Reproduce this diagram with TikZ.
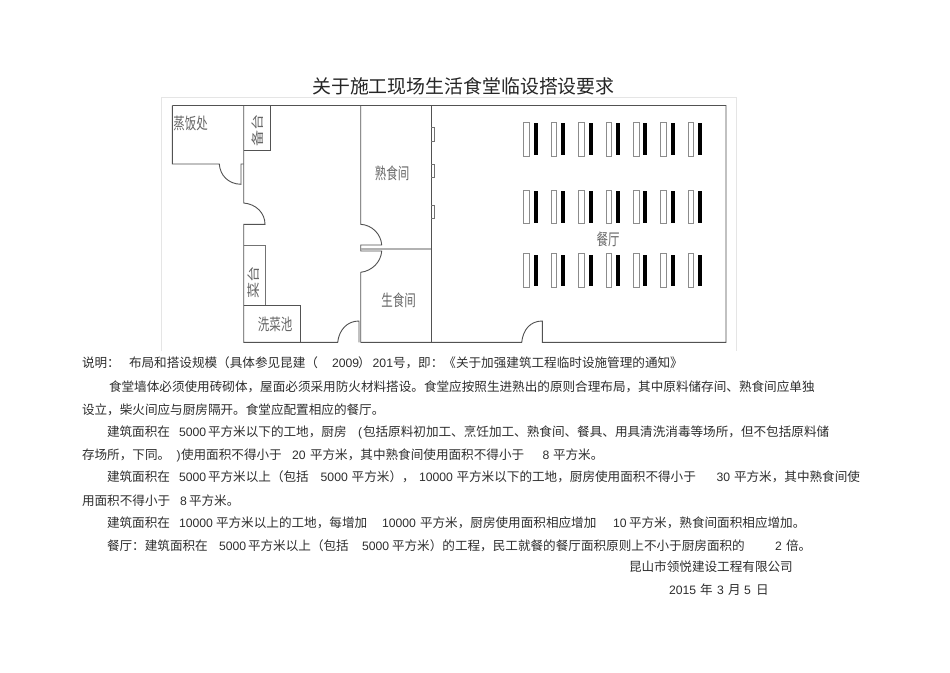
\documentclass[tikz,border=0pt]{standalone}
\usepackage{fontspec}
\setmainfont{Liberation Sans}
\newfontfamily\cjk{Noto Sans CJK SC}
\newcommand{\tx}[4]{\node[txt] (#1) at (#2,#3) {#4};}
\newcommand{\za}[4]{\node[txt,font=\cjk\fontsize{12.6}{14}\selectfont] (#1) at (#2,#3) {#4};}
\newcommand{\lab}[4]{\node[hand] (#1) at (#2,#3) {#4};}
\newcommand{\labr}[4]{\node[hand,rotate=90,yscale=1.1] (#1) at (#2,#3) {#4};}
\tikzset{
  txt/.style={anchor=base west,inner sep=0pt,outer sep=0pt,text=black!82,font=\fontsize{12.2}{14}\selectfont},
  wall/.style={draw=black!68,line width=0.9pt},
  thin wall/.style={draw=black!55,line width=0.7pt},
  hand/.style={inner sep=0pt,text=black!60,transform shape,yscale=1.4,font=\cjk\fontsize{11.5}{13}\selectfont},
  seat/.style={draw=black!45,fill=white,line width=0.7pt}
}
\begin{document}
\begin{tikzpicture}[x=1pt,y=-1pt]
\useasboundingbox (0,0) rectangle (950,672);
\fill[white] (0,0) rectangle (950,672);
% image frame
\draw[black!10,line width=0.6pt] (161,351) -- (161,97.3) -- (736,97.3) -- (736,351);
% title
\node[inner sep=0pt,anchor=base west,text=black!85,font=\cjk\fontsize{18.9}{22}\selectfont] (title) at (312,93) {关于施工现场生活食堂临设搭设要求};
% rooms
\draw[wall] (172.3,105.5) -- (726,105.5) -- (726,342.3) -- (542.3,342.3) -- (542.3,321)
  .. controls (530,321) and (523,330) .. (521.7,342.3) -- (360.7,342.3);
\draw[wall] (359,342.3) -- (359,321) .. controls (347,321) and (339,330) .. (337.7,342.3) -- (243.7,342.3) -- (243.7,224.3) -- (265,224.3)
  .. controls (265,213) and (256,204) .. (243.7,203) -- (243.7,105.5);
\draw[wall] (172.3,105.5) -- (172.3,164) -- (219.3,164)
  .. controls (220,175) and (228,184) .. (241,184.3) -- (241,164) -- (243.7,164);
\draw[wall] (243.7,150.5) -- (270.7,150.5) -- (270.7,105.5);
\draw[thin wall] (243.7,245) -- (265,245) -- (265,305.7);
\draw[wall] (243.7,305.7) -- (300.7,305.7) -- (300.7,342.3);
\draw[wall] (360.7,105.5) -- (360.7,224.3) .. controls (372,225) and (381,234) .. (381.7,245) -- (360.7,245) -- (360.7,251) -- (381.7,251)
  .. controls (381,262) and (372,271) .. (360.7,272.3) -- (360.7,342.3);
\draw[black!30,line width=1.3pt] (361,249) -- (431,249);
\draw[wall] (431,105.5) -- (431,342.3);
\foreach \a/\b in {127.3/141,164/177.7,205/218.3}{
  \draw[thin wall] (431,\a) -- (434.7,\a) -- (434.7,\b) -- (431,\b);
}
% tables
\foreach \i in {0,...,6}{
  \foreach \ya/\yb in {122.3/156,190.3/223.7,253.7/287.3}{
    \draw[seat] ({523.7+27.4*\i},\ya) rectangle ({529.3+27.4*\i},\yb);
    \fill[black] ({533.7+27.4*\i},{\ya+1}) rectangle ({537.7+27.4*\i},{\yb-1});
  }
}
% room labels
\lab{l1}{190.7}{123}{蒸饭处}
\labr{l2}{257.5}{130}{备台}
\labr{l3}{253.5}{282}{菜台}
\lab{l4}{275}{324}{洗菜池}
\lab{l5}{392}{173}{熟食间}
\lab{l6}{398.5}{300.5}{生食间}
\lab{l7}{608}{239}{餐厅}
% text lines
\za{a1}{82}{367.5}{说明：}
\za{a2}{129}{367.5}{布局和搭设规模（具体参见昆建（}
\tx{a3}{332}{367.5}{2009}
\za{a4}{358}{367.5}{）}
\tx{a5}{372.7}{367.5}{201}
\za{a6}{393}{367.5}{号，即：《关于加强建筑工程临时设施管理的通知》}
\za{b1}{109}{391.5}{食堂墙体必须使用砖砌体，屋面必须采用防火材料搭设。食堂应按照生进熟出的原则合理布局，其中原料储存间、熟食间应单独}
\za{c1}{82}{414}{设立，柴火间应与厨房隔开。食堂应配置相应的餐厅。}
\za{d1}{107}{436.5}{建筑面积在}
\tx{d2}{179}{436.5}{5000}
\za{d3}{208}{436.5}{平方米以下的工地，厨房}
\tx{d4}{358}{436.5}{(}
\za{d5}{363}{436.5}{包括原料初加工、烹饪加工、熟食间、餐具、用具清洗消毒等场所，但不包括原料储}
\za{e1}{82}{459.5}{存场所，下同。}
\tx{e2}{176.7}{459.5}{)}
\za{e3}{181}{459.5}{使用面积不得小于}
\tx{e4}{292}{459.5}{20}
\za{e5}{310}{459.5}{平方米，其中熟食间使用面积不得小于}
\tx{e6}{542.7}{459.5}{8}
\za{e7}{553}{459.5}{平方米。}
\za{f1}{107}{481.5}{建筑面积在}
\tx{f2}{179}{481.5}{5000}
\za{f3}{208}{481.5}{平方米以上（包括}
\tx{f4}{320.7}{481.5}{5000}
\za{f5}{351.7}{481.5}{平方米），}
\tx{f6}{419}{481.5}{10000}
\za{f7}{456.5}{481.5}{平方米以下的工地，厨房使用面积不得小于}
\tx{f8}{716.7}{481.5}{30}
\za{f9}{734}{481.5}{平方米，其中熟食间使}
\za{g1}{82}{505}{用面积不得小于}
\tx{g2}{180}{505}{8}
\za{g3}{189}{505}{平方米。}
\za{h1}{107}{527}{建筑面积在}
\tx{h2}{179}{527}{10000}
\za{h3}{216}{527}{平方米以上的工地，每增加}
\tx{h4}{382}{527}{10000}
\za{h5}{420}{527}{平方米，厨房使用面积相应增加}
\tx{h6}{613}{527}{10}
\za{h7}{629}{527}{平方米，熟食间面积相应增加。}
\za{i1}{107}{550}{餐厅：建筑面积在}
\tx{i2}{219}{550}{5000}
\za{i3}{248}{550}{平方米以上（包括}
\tx{i4}{362}{550}{5000}
\za{i5}{392}{550}{平方米）的工程，民工就餐的餐厅面积原则上不小于厨房面积的}
\tx{i6}{775}{550}{2}
\za{i7}{786}{550}{倍。}
\za{j1}{629}{571}{昆山市领悦建设工程有限公司}
\tx{k1}{669}{594.5}{2015}
\za{k2}{700}{594.5}{年}
\tx{k3}{717}{594.5}{3}
\za{k4}{728}{594.5}{月}
\tx{k5}{744}{594.5}{5}
\za{k6}{756}{594.5}{日}
\end{tikzpicture}
\end{document}
